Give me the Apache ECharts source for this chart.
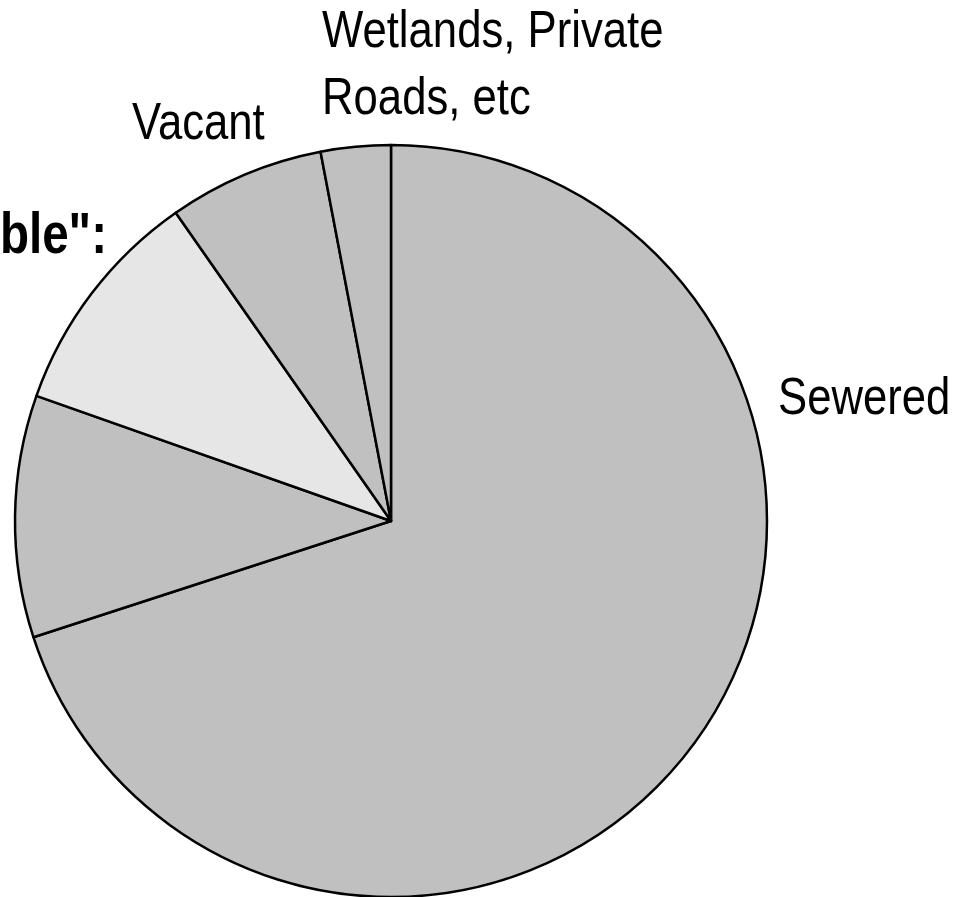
<!DOCTYPE html>
<html>
<head>
<meta charset="utf-8">
<script src="https://cdn.jsdelivr.net/npm/echarts@6/dist/echarts.min.js"></script>
<style>
html,body{margin:0;padding:0;background:#fff;}
#c{width:970px;height:897px;}
</style>
</head>
<body>
<div id="c"></div>
<script>
const categories = ['Sewered', '', 'ble":', 'Vacant', 'Wetlands, Private\nRoads, etc'];
const values = [70.0, 10.4, 9.9, 6.7, 3.0];
const colors = ['#c0c0c0', '#c0c0c0', '#e6e6e6', '#c0c0c0', '#c0c0c0'];
const boldLabel = [false, false, true, false, false];

// label anchor layout (narrow font emulated by horizontal scaling)
const labelPos = [
  {x: 778, y: 400, align: 'left'},
  null,
  {x: 107, y: 237, align: 'right'},
  {x: 132, y: 125, align: 'left'},
  {x: 322, y: 66, align: 'left'}
];
const NARROW = 0.84;
const NARROW_BOLD = 0.82;

const graphics = [];
categories.forEach((name, i) => {
  const pos = labelPos[i];
  if (!pos || !name) return;
  const bold = boldLabel[i];
  const size = bold ? 58 : 52;
  graphics.push({
    type: 'text',
    x: pos.x,
    y: pos.y,
    scaleX: bold ? NARROW_BOLD : NARROW,
    silent: true,
    style: {
      text: name,
      fill: '#000',
      fontFamily: '"Liberation Sans", Arial, sans-serif',
      fontSize: size,
      fontWeight: bold ? 'bold' : 'normal',
      lineHeight: 67,
      align: pos.align,
      verticalAlign: 'middle'
    }
  });
});

const chart = echarts.init(document.getElementById('c'), null, {renderer: 'canvas'});
chart.setOption({
  animation: false,
  graphic: graphics,
  series: [{
    type: 'pie',
    center: [391, 521],
    radius: 376,
    startAngle: 90,
    clockwise: true,
    avoidLabelOverlap: false,
    silent: true,
    label: {show: false},
    labelLine: {show: false},
    itemStyle: {borderColor: '#000', borderWidth: 2.5},
    data: categories.map((name, i) => ({
      name: name,
      value: values[i],
      itemStyle: {color: colors[i]}
    }))
  }]
});
</script>
</body>
</html>
